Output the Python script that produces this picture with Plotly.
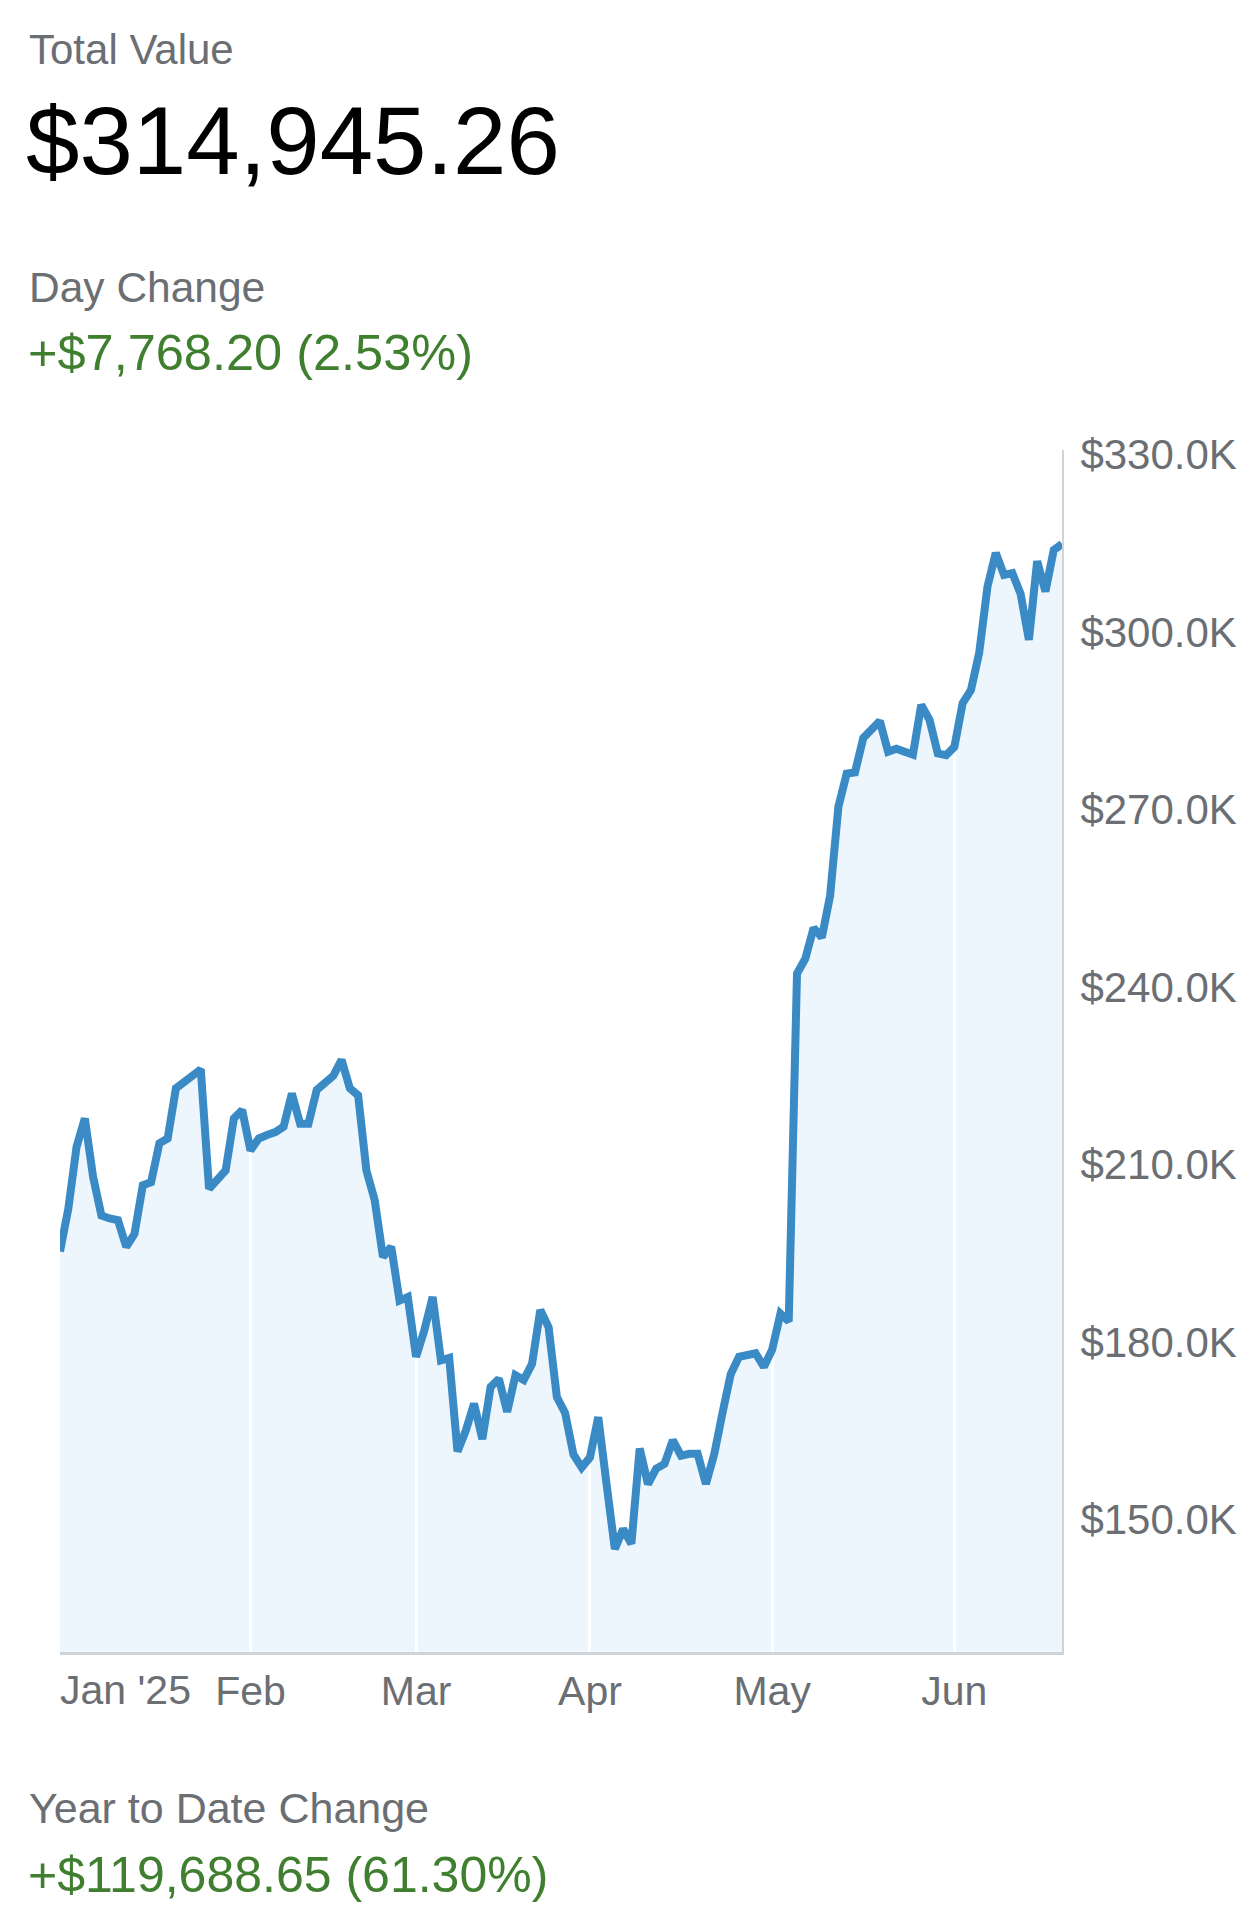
import pandas as pd
import plotly.graph_objects as go

# ---- data (portfolio value, thousands of USD, one value per weekday) ----
dates = pd.bdate_range("2025-01-01", "2025-06-19").strftime("%Y-%m-%d").tolist()

jan = [195.3, 202.5, 213.0, 217.8, 207.9, 201.4, 200.9, 200.6, 196.1, 198.3, 206.5, 207.0,
       213.6, 214.4, 222.9, 224.0, 224.8, 226.1, 205.9, 207.5, 209.0, 217.8, 219.2]
feb = [212.4, 214.4, 215.0, 215.5, 216.4, 222.0, 216.9, 216.9, 222.6, 224.0, 225.0, 227.7,
       222.9, 221.7, 209.0, 204.0, 194.4, 196.1, 187.0, 187.6]
mar = [177.5, 182.0, 187.6, 176.9, 177.3, 161.5, 165.0, 169.6, 163.6, 172.4, 173.8, 168.2,
       174.4, 173.6, 176.3, 185.4, 182.5, 170.7, 168.0, 161.0, 158.8]
apr = [160.5, 167.3, 156.0, 145.0, 148.4, 145.9, 162.0, 156.0, 158.6, 159.4, 163.4, 160.8,
       161.1, 161.1, 156.0, 161.0, 168.0, 174.6, 177.5, 177.8, 178.1, 175.8]
may = [178.7, 184.8, 183.5, 242.3, 244.8, 250.0, 248.4, 255.5, 270.5, 276.1, 276.3, 282.1,
       283.8, 285.0, 279.8, 280.3, 279.8, 279.3, 287.7, 285.2, 279.5, 279.2]
jun = [280.6, 288.0, 290.2, 296.5, 307.7, 313.4, 309.7, 310.0, 306.5, 298.7, 312.0, 306.9,
       313.9, 314.9]
values = jan + feb + mar + apr + may + jun

month_ticks = ["2025-02-03", "2025-03-03", "2025-04-01", "2025-05-01", "2025-06-02"]
month_labels = ["Feb", "Mar", "Apr", "May", "Jun"]
first_label = "Jan '25"

total_label = "Total Value"
total_value = "$314,945.26"
day_label = "Day Change"
day_value = "+$7,768.20 (2.53%)"
ytd_label = "Year to Date Change"
ytd_value = "+$119,688.65 (61.30%)"

# ---- layout constants (pixels) ----
W, H = 1256, 1905
L, R, T, B = 60, 1062, 450, 1652
Y_MIN, Y_MAX = 127.6, 330.8

FILL = "#edf6fd"
LINE = "#3a8ac6"
GRAY = "#6b6e73"
GREEN = "#3f7f2f"
AXIS = "#cfd4d9"
FONT = "Liberation Sans, Arial, sans-serif"


def py(px_y):
    return (B - px_y) / (B - T)


def px(px_x):
    return (px_x - L) / (R - L)


fig = go.Figure()
# white mask above the line, so the light-blue plot background shows as the area fill
fig.add_trace(go.Scatter(
    x=dates + [dates[-1], dates[0]],
    y=values + [Y_MAX + 50, Y_MAX + 50],
    fill="toself", fillcolor="white", mode="lines",
    line=dict(width=0, color="white"), hoverinfo="skip", showlegend=False))
fig.add_trace(go.Scatter(
    x=dates, y=values, mode="lines",
    line=dict(color=LINE, width=8), showlegend=False,
    hovertemplate="%{x}<br>$%{y:.1f}K<extra></extra>"))

fig.update_layout(
    width=W, height=H, autosize=False,
    margin=dict(l=L, r=W - R, t=T, b=H - B),
    paper_bgcolor="white", plot_bgcolor=FILL,
    font=dict(family=FONT, color=GRAY),
    showlegend=False,
)
fig.update_xaxes(
    type="date",
    rangebreaks=[dict(bounds=["sat", "mon"])],
    range=[dates[0], dates[-1]],
    tickmode="array", tickvals=month_ticks, ticktext=month_labels,
    ticks="", showgrid=True, gridcolor="white", gridwidth=3,
    showline=True, linecolor=AXIS, linewidth=3,
    zeroline=False,
    tickfont=dict(size=41, color=GRAY, family=FONT),
    ticklabelstandoff=1,
)
fig.update_yaxes(
    side="right", range=[Y_MIN, Y_MAX],
    tick0=0, dtick=30, tickprefix="$", ticksuffix="K", tickformat=".1f",
    ticks="", showgrid=False, zeroline=False,
    showline=True, linecolor=AXIS, linewidth=2,
    tickfont=dict(size=42, color=GRAY, family=FONT),
    ticklabelstandoff=8,
)

ann = [
    (total_label, 27, 49, 42, GRAY),
    (total_value, 24, 140, 96, "#000000"),
    (day_label, 27, 288, 42.5, GRAY),
    (day_value, 26, 352, 50.5, GREEN),
    (ytd_label, 27, 1808, 43, GRAY),
    (ytd_value, 26, 1875, 50, GREEN),
]
for text, x0, y0, size, color in ann:
    fig.add_annotation(text=text, xref="paper", yref="paper", x=px(x0), y=py(y0),
                       xanchor="left", yanchor="middle", showarrow=False,
                       font=dict(size=size, color=color, family=FONT))
fig.add_annotation(text=first_label, xref="x", yref="paper", x=dates[0], y=py(1690),
                   xanchor="left", yanchor="middle", showarrow=False, xshift=-2,
                   font=dict(size=41, color=GRAY, family=FONT))

fig.write_html("out.html", config={"displayModeBar": False},
               post_script="document.body.style.margin='0';document.body.style.overflow='hidden';")
